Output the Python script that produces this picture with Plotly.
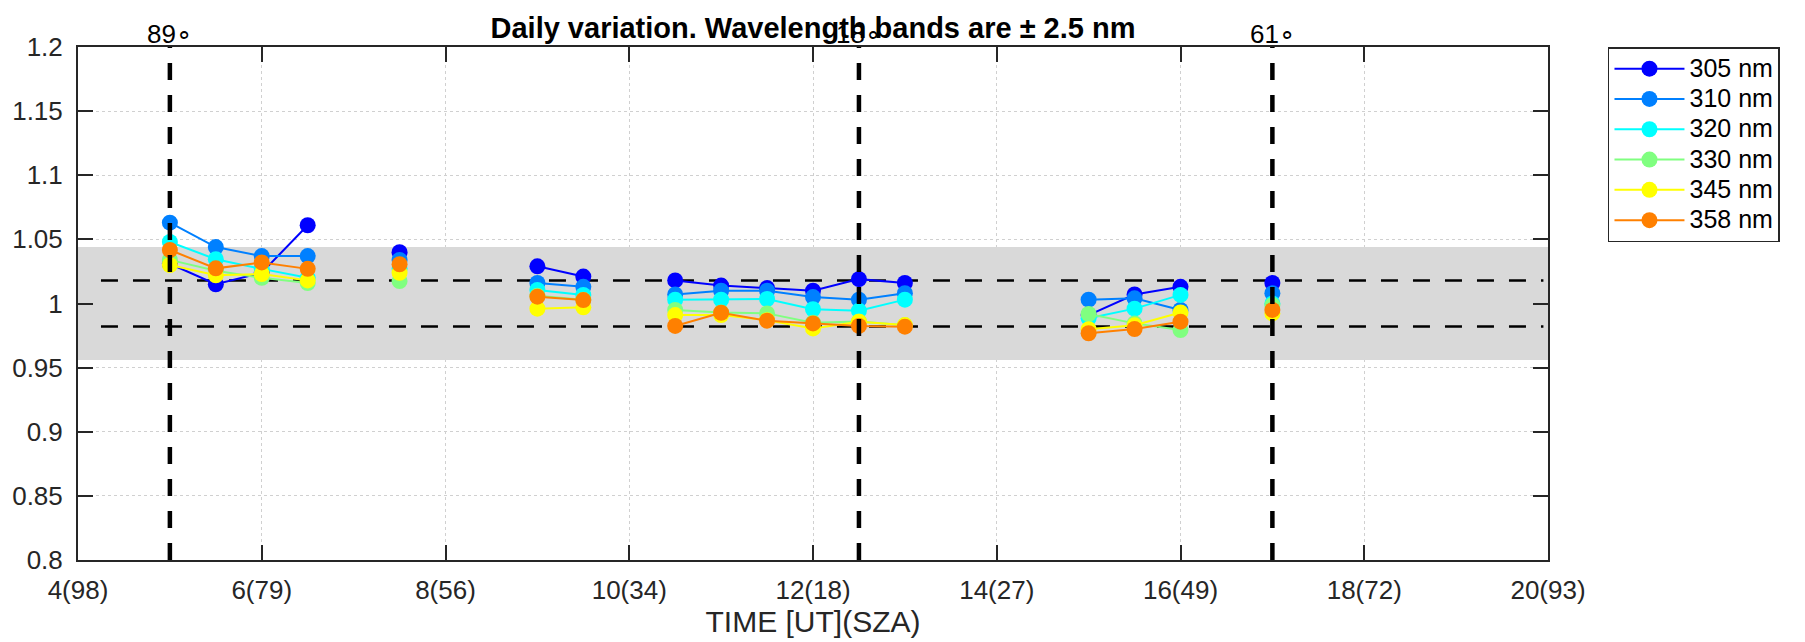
import plotly.graph_objects as go

# ---------------- data ----------------
times = [5, 5.5, 6, 6.5, 7, 7.5, 8, 8.5, 9, 9.5, 10, 10.5, 11, 11.5, 12, 12.5,
         13, 13.5, 14, 14.5, 15, 15.5, 16, 16.5, 17]
N = None
s305 = [1.031, 1.015, 1.024, 1.061, N, 1.040, N, N, 1.029, 1.021, N, 1.018, 1.014, 1.012, 1.010, 1.019,
        1.016, N, N, N, 0.991, 1.007, 1.013, N, 1.016]
s310 = [1.063, 1.044, 1.037, 1.037, N, 1.034, N, N, 1.016, 1.013, N, 1.007, 1.010, 1.010, 1.005, 1.003,
        1.008, N, N, N, 1.003, 1.004, 0.995, N, 1.008]
s320 = [1.048, 1.0345, 1.027, 1.020, N, 1.027, N, N, 1.0105, 1.0067, N, 1.003, 1.003, 1.0035, 0.9955, 0.9944,
        1.003, N, N, N, 0.9885, 0.996, 1.0067, N, 1.000]
s330 = [1.034, 1.0256, 1.020, 1.016, N, 1.0175, N, N, 1.006, 1.003, N, 0.995, 0.993, 0.9923, 0.985, 0.986,
        0.983, N, N, N, 0.9918, 0.9845, 0.9793, N, 0.9988]
s345 = [1.030, 1.022, 1.023, 1.018, N, 1.024, N, N, 0.996, 0.997, N, 0.991, 0.991, 0.987, 0.9806, 0.9858,
        0.9832, N, N, N, 0.980, 0.983, 0.993, N, 0.9923]
s358 = [1.0417, 1.0274, 1.032, 1.027, N, 1.0306, N, N, 1.0053, 1.0027, N, 0.9825, 0.9928, 0.9866, 0.9845, 0.9825,
        0.9819, N, N, N, 0.9768, 0.9801, 0.9858, N, 0.995]

series_names = ["305 nm", "310 nm", "320 nm", "330 nm", "345 nm", "358 nm"]
series_values = [s305, s310, s320, s330, s345, s358]
series_colors = ["#0000FF", "#0080FF", "#00FFFF", "#80FF80", "#FFFF00", "#FF8000"]

xtick_vals = [4, 6, 8, 10, 12, 14, 16, 18, 20]
xtick_text = ["4(98)", "6(79)", "8(56)", "10(34)", "12(18)", "14(27)", "16(49)", "18(72)", "20(93)"]
ytick_vals = [0.8, 0.85, 0.9, 0.95, 1.0, 1.05, 1.1, 1.15, 1.2]
ytick_text = ["0.8", "0.85", "0.9", "0.95", "1", "1.05", "1.1", "1.15", "1.2"]

sza_times = [5, 12.5, 17]
sza_labels = ["89∘", "18∘", "61∘"]

band_low, band_high = 0.956, 1.044
ref_low, ref_high = 0.982, 1.018

FONT = "Liberation Sans, Arial, Helvetica, sans-serif"
AX = "#262626"

fig = go.Figure()
for name, vals, col in zip(series_names, series_values, series_colors):
    fig.add_trace(go.Scatter(
        x=times, y=vals, mode="lines+markers",
        name="<span style='font-size:25px'>%s</span>" % name,
        line=dict(color=col, width=2),
        marker=dict(color=col, size=16, line=dict(width=0)),
        connectgaps=False,
    ))

# grey band
fig.add_shape(type="rect", xref="x", yref="y", x0=4, x1=20, y0=band_low, y1=band_high,
              fillcolor="#D9D9D9", line=dict(width=0), layer="between")
# horizontal dashed reference lines
for yv in (ref_low, ref_high):
    fig.add_shape(type="line", xref="x", yref="y", x0=4.25, x1=19.95, y0=yv, y1=yv,
                  line=dict(color="black", width=2.5, dash="17px,15px"), layer="between")
# vertical dashed SZA lines with labels
for t, lab in zip(sza_times, sza_labels):
    fig.add_shape(type="line", xref="x", yref="y", x0=t, x1=t, y0=0.8, y1=1.2,
                  line=dict(color="black", width=4.5, dash="17px,15px"), layer="above")
    fig.add_annotation(x=t, y=1.0, xref="x", yref="paper", text=lab, showarrow=False,
                       yanchor="bottom", yshift=-4,
                       font=dict(family=FONT, size=26, color="black"))

fig.update_layout(
    width=1805, height=642,
    margin=dict(l=78, r=257, t=47, b=82),
    paper_bgcolor="white", plot_bgcolor="white",
    font=dict(family=FONT, size=26, color=AX),
    title=dict(text="<b>Daily variation. Wavelength bands are ± 2.5 nm</b>",
               x=0.5, xanchor="center", xref="paper",
               y=1 - 27.5 / 642, yanchor="middle", yref="container",
               font=dict(family=FONT, size=29, color="black")),
    showlegend=True,
    legend=dict(x=1.0408, y=1.0, xanchor="left", yanchor="top",
                bgcolor="white", bordercolor=AX, borderwidth=1.5,
                font=dict(family=FONT, size=21, color="black"),
                itemwidth=70),
)
fig.update_xaxes(range=[4, 20], tickvals=xtick_vals, ticktext=xtick_text,
                 showline=True, linecolor=AX, linewidth=2, mirror="ticks",
                 ticks="inside", ticklen=15, tickwidth=2, tickcolor=AX,
                 showgrid=True, gridcolor="#D0D0D0", gridwidth=1, griddash="dot",
                 zeroline=False, ticklabelstandoff=6,
                 title=dict(text="TIME [UT](SZA)", standoff=4,
                            font=dict(family=FONT, size=30, color=AX)))
fig.update_yaxes(range=[0.8, 1.2], tickvals=ytick_vals, ticktext=ytick_text,
                 showline=True, linecolor=AX, linewidth=2, mirror="ticks",
                 ticks="inside", ticklen=15, tickwidth=2, tickcolor=AX,
                 showgrid=True, gridcolor="#D0D0D0", gridwidth=1, griddash="dot",
                 zeroline=False, ticklabelstandoff=8)

fig.write_html("out.html")
